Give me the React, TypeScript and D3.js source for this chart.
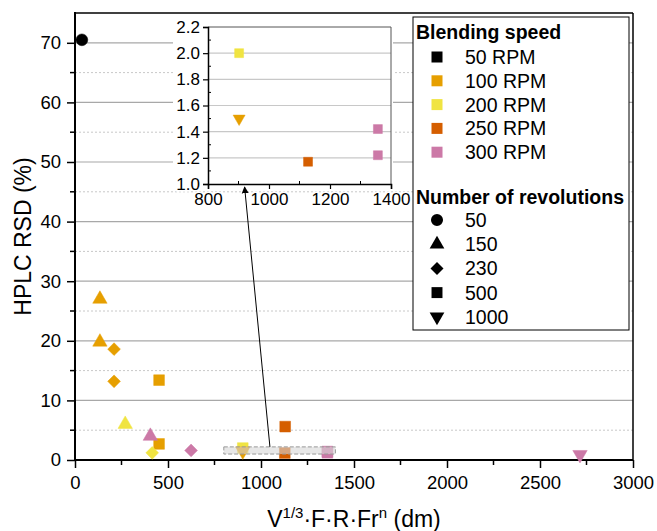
import React, { useRef, useEffect } from "react";
import * as d3 from "d3";

// blending speed groups (colour) and number of revolutions (shape)
const speeds = ["50 RPM", "100 RPM", "200 RPM", "250 RPM", "300 RPM"];
const speedColors = ["#000000", "#E69F00", "#F0E442", "#D55E00", "#CC79A7"];
const revolutions = ["50", "150", "230", "500", "1000"];

// one entry per measured point
const pointX = [37, 134, 134, 210, 210, 452, 452, 270, 405, 415, 624, 902, 902, 1130, 1128, 1357, 1357, 2715];
const pointY = [70.5, 27.0, 19.8, 18.6, 13.2, 13.4, 2.7, 6.0, 4.0, 1.2, 1.6, 2.0, 1.5, 5.6, 1.17, 1.42, 1.22, 0.9];
const pointSpeed = ["50 RPM", "100 RPM", "100 RPM", "100 RPM", "100 RPM", "100 RPM", "100 RPM", "200 RPM", "300 RPM", "200 RPM", "300 RPM", "200 RPM", "100 RPM", "250 RPM", "250 RPM", "300 RPM", "300 RPM", "300 RPM"];
const pointRev = ["50", "150", "150", "230", "230", "500", "500", "150", "150", "230", "230", "500", "1000", "500", "500", "500", "500", "1000"];

const xTicks = [0, 500, 1000, 1500, 2000, 2500, 3000];
const yTicks = [0, 10, 20, 30, 40, 50, 60, 70];
const insetXTicks = [800, 1000, 1200, 1400];
const insetYTicks = [1.0, 1.2, 1.4, 1.6, 1.8, 2.0, 2.2];
const zoomX = [800, 1400];
const zoomY = [1.0, 2.2];

const font = "'Liberation Sans', Arial, sans-serif";

const symbolPath = (rev, area) => {
  const types = {
    "50": d3.symbolCircle,
    "150": d3.symbolTriangle,
    "230": d3.symbolDiamond2,
    "500": d3.symbolSquare,
    "1000": d3.symbolTriangle,
  };
  let a = area;
  if (rev === "50") a = area * 0.95;
  if (rev === "150" || rev === "1000") a = area * 0.78;
  if (rev === "230") a = area * 0.9;
  return d3.symbol().type(types[rev]).size(a)();
};
const symbolRot = (rev) => (rev === "1000" ? " rotate(180)" : "");

const App = () => {
  const svgRef = useRef(null);

  useEffect(() => {
    document.body.style.margin = "0";
    const width = 657;
    const height = 531;
    const svg = d3.select(svgRef.current).attr("width", width).attr("height", height);
    svg.selectAll("*").remove();
    svg.append("rect").attr("width", width).attr("height", height).attr("fill", "#fff");

    const x = d3.scaleLinear().domain([0, 3000]).range([75, 633]);
    const y = d3.scaleLinear().domain([0, 75]).range([460, 13]);
    const color = d3.scaleOrdinal().domain(speeds).range(speedColors);

    const data = pointX.map((px, i) => ({ x: px, y: pointY[i], speed: pointSpeed[i], rev: pointRev[i] }));

    // grid
    const minorY = d3.range(5, 75, 10);
    svg.append("g").selectAll("line").data(minorY).join("line")
      .attr("x1", x(0)).attr("x2", x(3000)).attr("y1", (d) => y(d)).attr("y2", (d) => y(d))
      .attr("stroke", "#c8c8c8").attr("stroke-dasharray", "2,2").attr("stroke-width", 1);
    svg.append("g").selectAll("line").data(yTicks.filter((d) => d > 0)).join("line")
      .attr("x1", x(0)).attr("x2", x(3000)).attr("y1", (d) => y(d)).attr("y2", (d) => y(d))
      .attr("stroke", "#a8a8a8").attr("stroke-width", 1.2);

    // frame top/right
    svg.append("line").attr("x1", x(0)).attr("x2", x(3000)).attr("y1", y(75)).attr("y2", y(75))
      .attr("stroke", "#000").attr("stroke-width", 1.5);
    svg.append("line").attr("x1", x(3000)).attr("x2", x(3000)).attr("y1", y(75)).attr("y2", y(0))
      .attr("stroke", "#000").attr("stroke-width", 1.5);

    // axes
    const xAxis = svg.append("g").attr("transform", `translate(0,${y(0)})`)
      .call(d3.axisBottom(x).tickValues(xTicks).tickSize(8).tickPadding(8).tickFormat(d3.format("d")));
    xAxis.append("g").selectAll("line").data(d3.range(250, 3000, 500)).join("line")
      .attr("x1", (d) => x(d)).attr("x2", (d) => x(d)).attr("y1", 0).attr("y2", 5).attr("stroke", "#000").attr("stroke-width", 1.5);
    const yAxis = svg.append("g").attr("transform", `translate(${x(0)},0)`)
      .call(d3.axisLeft(y).tickValues(yTicks).tickSize(8).tickPadding(6));
    yAxis.append("g").selectAll("line").data(minorY).join("line")
      .attr("y1", (d) => y(d)).attr("y2", (d) => y(d)).attr("x1", 0).attr("x2", -5).attr("stroke", "#000").attr("stroke-width", 1.5);
    [xAxis, yAxis].forEach((g) => {
      g.select(".domain").remove();
      g.selectAll(".tick line").attr("stroke-width", 1.5);
      g.selectAll("text").attr("font-family", font).attr("font-size", 18.5).attr("fill", "#000");
    });
    svg.append("line").attr("x1", x(0) - 1).attr("x2", x(3000)).attr("y1", y(0)).attr("y2", y(0)).attr("stroke", "#000").attr("stroke-width", 2);
    svg.append("line").attr("x1", x(0)).attr("x2", x(0)).attr("y1", y(75) - 1).attr("y2", y(0) + 1).attr("stroke", "#000").attr("stroke-width", 2);

    // axis titles
    svg.append("text").attr("transform", `translate(31,${(y(0) + y(75)) / 2}) rotate(-90)`)
      .attr("text-anchor", "middle").attr("font-family", font).attr("font-size", 23).text("HPLC RSD (%)");
    const xt = svg.append("text").attr("x", (x(0) + x(3000)) / 2).attr("y", 527)
      .attr("text-anchor", "middle").attr("font-family", font).attr("font-size", 23);
    xt.append("tspan").text("V");
    xt.append("tspan").attr("font-size", 15).attr("dy", -9).text("1/3");
    xt.append("tspan").attr("dy", 9).text("·F·R·Fr");
    xt.append("tspan").attr("font-size", 15).attr("dy", -9).text("n");
    xt.append("tspan").attr("dy", 9).text(" (dm)");

    // points
    const drawPoints = (g, pts, sx, sy, area) => {
      g.selectAll("path").data(pts).join("path")
        .attr("d", (d) => symbolPath(d.rev, area))
        .attr("transform", (d) => `translate(${sx(d.x)},${sy(d.y)})${symbolRot(d.rev)}`)
        .attr("fill", (d) => color(d.speed))
        .attr("stroke", (d) => color(d.speed)).attr("stroke-width", 0.5);
    };
    drawPoints(svg.append("g"), data, x, y, 115);

    // zoom region highlight
    svg.append("rect")
      .attr("x", x(zoomX[0])).attr("y", y(zoomY[1]))
      .attr("width", x(zoomX[1]) - x(zoomX[0])).attr("height", y(zoomY[0]) - y(zoomY[1]))
      .attr("fill", "rgba(215,215,215,0.6)").attr("stroke", "#999").attr("stroke-dasharray", "4,2").attr("stroke-width", 1);

    // inset
    const ix = d3.scaleLinear().domain([800, 1400]).range([208, 391]);
    const iy = d3.scaleLinear().domain([1.0, 2.2]).range([184, 27]);
    svg.append("rect").attr("x", 173).attr("y", 16).attr("width", 391 - 173 + 2).attr("height", 188 - 16).attr("fill", "#fff");
    svg.append("g").selectAll("line").data(insetYTicks.filter((d) => d > 1.05 && d < 2.1)).join("line")
      .attr("x1", ix(800)).attr("x2", ix(1400)).attr("y1", (d) => iy(d)).attr("y2", (d) => iy(d))
      .attr("stroke", "#c8c8c8").attr("stroke-width", 1.2);
    svg.append("path").attr("d", `M${ix(800)},${iy(2.2)}H${ix(1400)}V${iy(1.0)}`)
      .attr("fill", "none").attr("stroke", "#555").attr("stroke-width", 1);
    const iax = svg.append("g").attr("transform", `translate(0,${iy(1.0)})`)
      .call(d3.axisBottom(ix).tickValues(insetXTicks).tickSize(5).tickPadding(4).tickFormat(d3.format("d")));
    iax.append("g").selectAll("line").data([900, 1100, 1300]).join("line")
      .attr("x1", (d) => ix(d)).attr("x2", (d) => ix(d)).attr("y1", -3).attr("y2", 0).attr("stroke", "#000");
    const iay = svg.append("g").attr("transform", `translate(${ix(800)},0)`)
      .call(d3.axisLeft(iy).tickValues(insetYTicks).tickSize(5).tickPadding(3).tickFormat(d3.format(".1f")));
    iay.append("g").selectAll("line").data(d3.range(1.1, 2.2, 0.2)).join("line")
      .attr("y1", (d) => iy(d)).attr("y2", (d) => iy(d)).attr("x1", 0).attr("x2", 3).attr("stroke", "#000");
    [iax, iay].forEach((g) => {
      g.select(".domain").attr("stroke-width", 1.5);
      g.selectAll(".tick line").attr("stroke-width", 1.2);
      g.selectAll("text").attr("font-family", font).attr("font-size", 17).attr("fill", "#000")
        .attr("stroke", "#fff").attr("stroke-width", 3).attr("paint-order", "stroke");
    });
    const insetData = data.filter((d) => d.x >= zoomX[0] && d.x <= zoomX[1] && d.y >= zoomY[0] && d.y <= zoomY[1]);
    drawPoints(svg.append("g"), insetData, ix, iy, 80);

    // arrow from highlight to inset
    const defs = svg.append("defs");
    defs.append("marker").attr("id", "arrowhead").attr("viewBox", "0 0 10 10").attr("refX", 9).attr("refY", 5)
      .attr("markerWidth", 7).attr("markerHeight", 11).attr("markerUnits", "userSpaceOnUse").attr("orient", "auto")
      .append("path").attr("d", "M0,0L10,5L0,10z").attr("fill", "#000");
    svg.append("line").attr("x1", x(1048)).attr("y1", y(zoomY[1]))
      .attr("x2", ix(920)).attr("y2", iy(1.0) + 3)
      .attr("stroke", "#000").attr("stroke-width", 1).attr("marker-end", "url(#arrowhead)");

    // legend
    const lg = svg.append("g");
    lg.append("rect").attr("x", 413).attr("y", 17).attr("width", 216).attr("height", 313)
      .attr("fill", "#fff").attr("stroke", "#000").attr("stroke-width", 1);
    const title = (t, ty) => lg.append("text").attr("x", 416).attr("y", ty).attr("font-family", font)
      .attr("font-size", 19.5).attr("font-weight", "bold").text(t);
    title("Blending speed", 39);
    speeds.forEach((s, i) => {
      const cy = 57 + i * 23.8;
      lg.append("rect").attr("x", 437 - 5.5).attr("y", cy - 5.5).attr("width", 11).attr("height", 11).attr("fill", color(s));
      lg.append("text").attr("x", 465).attr("y", cy + 7).attr("font-family", font).attr("font-size", 19.5).text(s);
    });
    title("Number of revolutions", 204);
    revolutions.forEach((r, i) => {
      const cy = 220 + i * 24.2;
      lg.append("path").attr("d", symbolPath(r, 120)).attr("transform", `translate(437,${cy})${symbolRot(r)}`).attr("fill", "#000");
      lg.append("text").attr("x", 465).attr("y", cy + 7).attr("font-family", font).attr("font-size", 19.5).text(r);
    });
  }, []);

  return (
    <div style={{ position: "absolute", left: 0, top: 0 }}>
      <svg ref={svgRef} style={{ display: "block" }} />
    </div>
  );
};

export default App;
